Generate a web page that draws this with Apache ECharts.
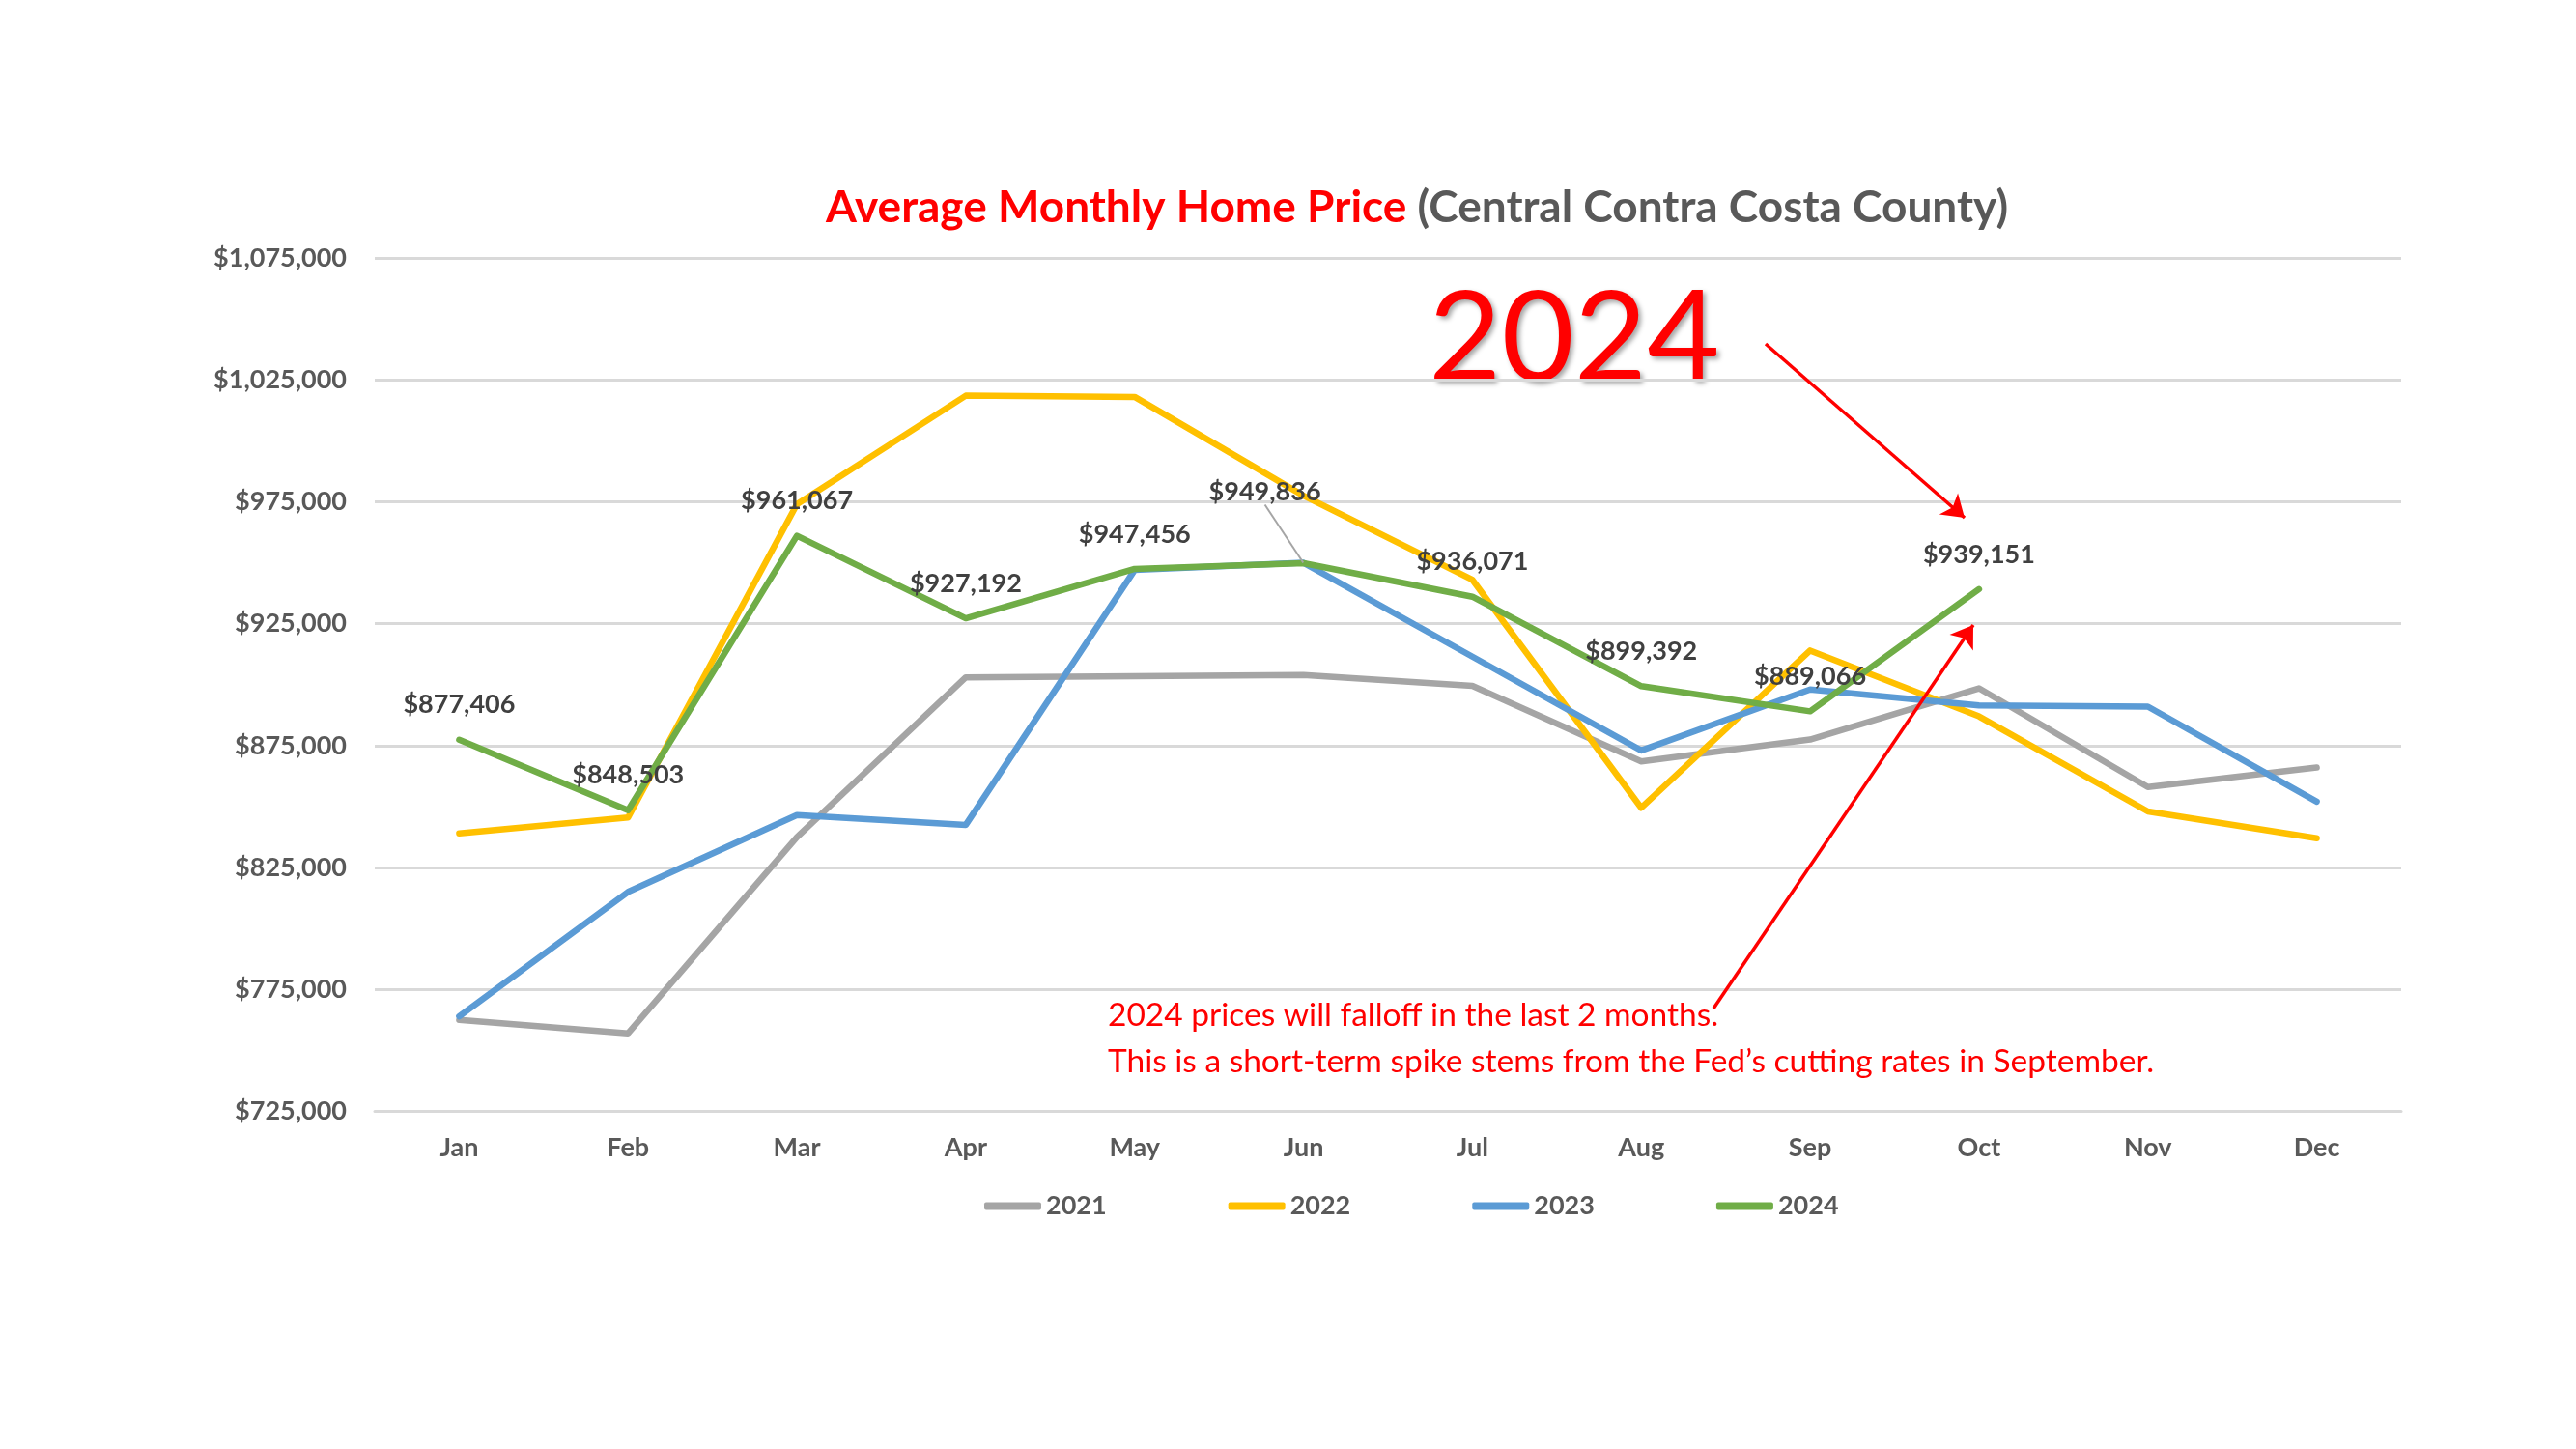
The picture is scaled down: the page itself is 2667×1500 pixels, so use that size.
<!DOCTYPE html>
<html>
<head>
<meta charset="utf-8">
<title>Average Monthly Home Price</title>
<script src="https://cdn.jsdelivr.net/npm/echarts@6/dist/echarts.min.js"></script>
<style>
  html, body { margin: 0; padding: 0; background: #fff; }
  #chart { width: 2667px; height: 1500px; }
</style>
</head>
<body>
<div id="chart"></div>
<script>
// 月份和各年数据
const months = ['Jan', 'Feb', 'Mar', 'Apr', 'May', 'Jun', 'Jul', 'Aug', 'Sep', 'Oct', 'Nov', 'Dec'];
const years = ['2021', '2022', '2023', '2024'];
const prices2021 = [762500, 757000, 837500, 903000, 903500, 904000, 899500, 868500, 877500, 898500, 858000, 866000];
const prices2022 = [839000, 845500, 974000, 1018500, 1018000, 977500, 943000, 849500, 914000, 887000, 848000, 837000];
const prices2023 = [764000, 815000, 846500, 842500, 947000, 950000, 911500, 873000, 898000, 891500, 891000, 852000];
const prices2024 = [877406, 848503, 961067, 927192, 947456, 949836, 936071, 899392, 889066, 939151, null, null];
const yTicks = { min: 725000, max: 1075000, step: 50000 };
const colors = ['#A5A5A5', '#FFC000', '#5B9BD5', '#70AD47'];

const FONT = 'Lato, "Open Sans", sans-serif';
const money = v => '$' + Number(v).toLocaleString('en-US');

const chart = echarts.init(document.getElementById('chart'));

function lineSeries(name, data, color) {
    return {
        name: name,
        type: 'line',
        data: data,
        showSymbol: false,
        symbol: 'none',
        lineStyle: { color: color, width: 6.5, cap: 'round', join: 'round' },
        itemStyle: { color: color }
    };
}

const series = [
    lineSeries(years[0], prices2021, colors[0]),
    lineSeries(years[1], prices2022, colors[1]),
    lineSeries(years[2], prices2023, colors[2]),
    lineSeries(years[3], prices2024, colors[3])
];

// 2024 数据标签，需要 symbol 才能显示，6月的标签挪开并加引线
const s24 = series[3];
s24.showSymbol = true;
s24.symbol = 'circle';
s24.symbolSize = 1;
s24.data = prices2024.map((v, i) => i === 5
    ? { value: v, labelLine: { show: true, lineStyle: { color: '#A5A5A5', width: 2 } } }
    : v);
s24.label = {
    show: true,
    position: 'top',
    distance: 22,
    formatter: p => money(p.value),
    color: '#404040',
    fontFamily: FONT,
    fontWeight: 'bold',
    fontSize: 27
};
s24.labelLayout = function (params) {
    if (params.dataIndex === 5) {
        return { dx: -40, dy: -38 };
    }
    return {};
};
s24.markLine = {
    silent: true,
    animation: false,
    symbol: ['none', 'arrow'],
    symbolSize: 22,
    label: { show: false },
    lineStyle: { color: '#FF0000', width: 3.5, type: 'solid' },
    data: [
        [{ x: 1828, y: 356 }, { x: 2034, y: 536 }],
        [{ x: 1774, y: 1044 }, { x: 2043, y: 647 }]
    ]
};

const option = {
    animation: false,
    backgroundColor: '#fff',
    title: {
        left: 850,
        top: 185,
        text: '{a|Average Monthly Home Price }{b|(Central Contra Costa County)}',
        textStyle: {
            rich: {
                a: { color: '#FF0000', fontSize: 46, fontWeight: 'bold', fontFamily: FONT, lineHeight: 50 },
                b: { color: '#595959', fontSize: 46, fontWeight: 'bold', fontFamily: FONT, lineHeight: 50 }
            }
        }
    },
    grid: { left: 388, right: 181, top: 267, bottom: 349.5 },
    legend: {
        data: years,
        left: 1014,
        top: 1230,
        icon: 'roundRect',
        itemWidth: 59,
        itemHeight: 8,
        itemGap: 126,
        textStyle: { color: '#595959', fontFamily: FONT, fontWeight: 'bold', fontSize: 27 }
    },
    xAxis: {
        type: 'category',
        data: months,
        boundaryGap: true,
        axisLine: { lineStyle: { color: '#D9D9D9', width: 3 } },
        axisTick: { show: false },
        axisLabel: { color: '#595959', fontFamily: FONT, fontWeight: 'bold', fontSize: 27, margin: 24 }
    },
    yAxis: {
        type: 'value',
        min: yTicks.min,
        max: yTicks.max,
        interval: yTicks.step,
        axisLine: { show: false },
        axisTick: { show: false },
        splitLine: { lineStyle: { color: '#D9D9D9', width: 3 } },
        axisLabel: {
            color: '#595959', fontFamily: FONT, fontWeight: 'bold', fontSize: 27, margin: 29,
            formatter: v => money(v)
        }
    },
    graphic: [
        {
            type: 'text',
            x: 1479,
            y: 352,
            style: {
                text: '2024',
                fill: '#FF0000',
                fontFamily: FONT,
                fontSize: 130,
                align: 'left',
                verticalAlign: 'middle',
                textShadowColor: 'rgba(0,0,0,0.35)',
                textShadowBlur: 5,
                textShadowOffsetX: 3,
                textShadowOffsetY: 3
            }
        },
        {
            type: 'text',
            x: 1147,
            y: 1051,
            style: {
                text: '2024 prices will falloff in the last 2 months.',
                fill: '#FF0000', fontFamily: FONT, fontSize: 33.5,
                align: 'left', verticalAlign: 'middle'
            }
        },
        {
            type: 'text',
            x: 1147,
            y: 1099,
            style: {
                text: 'This is a short-term spike stems from the Fed\u2019s cutting rates in September.',
                fill: '#FF0000', fontFamily: FONT, fontSize: 33.5,
                align: 'left', verticalAlign: 'middle'
            }
        }
    ],
    series: series
};

chart.setOption(option);
window.addEventListener('resize', () => chart.resize());
</script>
</body>
</html>
